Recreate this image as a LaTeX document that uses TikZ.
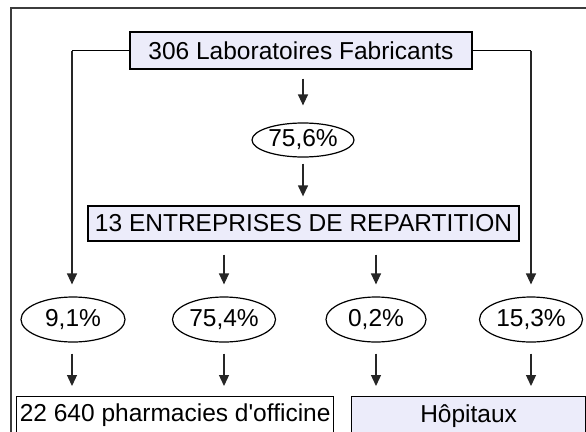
\documentclass[tikz,border=0pt]{standalone}
\usepackage{fontspec}
\setmainfont{Liberation Sans}
\usetikzlibrary{arrows.meta,shapes.geometric}
\definecolor{boxfill}{RGB}{236,236,250}
\definecolor{framegray}{RGB}{60,60,60}
\tikzset{
  lbl/.style={font=\fontsize{24.5}{28}\selectfont, inner sep=0pt},
  bluebox/.style={lbl, draw=black, line width=1.3pt, fill=boxfill, minimum height=37pt},
  whitebox/.style={lbl, draw=black, line width=1.3pt, fill=white, minimum height=37pt},
  pct/.style={lbl, ellipse, draw=black, line width=1.2pt, fill=white, inner sep=0pt},
  arr/.style={draw=black!85, line width=1.3pt, -{Triangle[length=11pt,width=10pt]}},
  conn/.style={draw=black, line width=1.3pt}
}
\begin{document}
\begin{tikzpicture}[x=1pt,y=-1pt]
\clip (0,0) rectangle (586,431);
\fill[white] (0,0) rectangle (586,431);
% outer frame
\draw[framegray, line width=1.6pt] (11,8) rectangle (620,470);
% top box
\node[bluebox, minimum width=342pt] (lab) at (301,50.5) {306 Laboratoires Fabricants};
\node[pct, minimum width=102pt, minimum height=34pt] (p756) at (303,140) {75,6\%};
\node[bluebox, minimum width=431pt, minimum height=35pt] (rep) at (303.5,223.5) {13 ENTREPRISES DE REPARTITION};
% percentages row
\node[pct, minimum width=104pt, minimum height=45pt] (p91) at (73,319.5) {9,1\%};
\node[pct, minimum width=103pt, minimum height=45pt] (p754) at (224,319.5) {75,4\%};
\node[pct, minimum width=100pt, minimum height=45pt] (p02) at (376,319.5) {0,2\%};
\node[pct, minimum width=103pt, minimum height=45pt] (p153) at (531,319.5) {15,3\%};
% bottom boxes
\node[whitebox, minimum width=317pt, minimum height=38pt, anchor=north west] (pharma) at (16,396) {22 640 pharmacies d\textquotesingle officine};
\node[bluebox, minimum width=234pt, minimum height=38pt, anchor=north west] (hop) at (351,396) {H\^opitaux};
% connectors
\coordinate (lcorner) at (72,50.5);
\coordinate (rcorner) at (531,50.5);
\draw[arr, shorten <=9pt, shorten >=17pt] (lab.south -| p756) -- (p756.north);
\draw[arr, shorten <=6pt, shorten >=9pt] (p756.south) -- (p756.south |- rep.north);
\draw[conn] (lab.west) -- (lcorner);
\draw[arr, shorten >=12pt] (lcorner) -- (lcorner |- p91.north);
\draw[conn] (lab.east) -- (rcorner);
\draw[arr, shorten >=12pt] (rcorner) -- (rcorner |- p153.north);
\draw[arr, shorten <=13pt, shorten >=12pt] (rep.south -| p754) -- (p754.north);
\draw[arr, shorten <=13pt, shorten >=12pt] (rep.south -| p02) -- (p02.north);
\draw[arr, shorten <=11pt, shorten >=10pt] (p91.south -| lcorner) -- (lcorner |- pharma.north);
\draw[arr, shorten <=11pt, shorten >=10pt] (p754.south) -- (p754.south |- pharma.north);
\draw[arr, shorten <=11pt, shorten >=10pt] (p02.south) -- (p02.south |- hop.north);
\draw[arr, shorten <=11pt, shorten >=10pt] (p153.south) -- (p153.south |- hop.north);
\end{tikzpicture}
\end{document}
